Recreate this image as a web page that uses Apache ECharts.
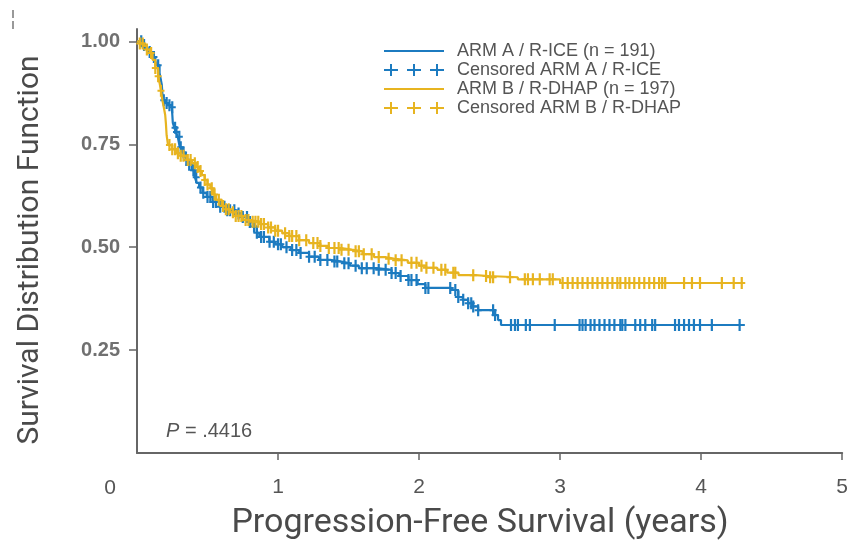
<!DOCTYPE html>
<html>
<head>
<meta charset="utf-8">
<script src="https://cdn.jsdelivr.net/npm/echarts@6/dist/echarts.min.js"></script>
<style>
  html, body { margin: 0; padding: 0; background: #fff; }
  #chart { width: 851px; height: 551px; }
</style>
</head>
<body>
<div id="chart"></div>
<script>
// Kaplan-Meier progression-free survival, two treatment arms.
// Step curves: [years, survival] at each event time.
const armA_name = 'ARM A / R-ICE (n = 191)';
const armA_censName = 'Censored ARM A / R-ICE';
const armB_name = 'ARM B / R-DHAP (n = 197)';
const armB_censName = 'Censored ARM B / R-DHAP';
const xTitle = 'Progression-Free Survival (years)';
const yTitle = 'Survival Distribution Function';

const armA_curve = [
  [0, 1.0], [0.04, 0.991], [0.06, 0.983], [0.08, 0.974], [0.11, 0.962], [0.13, 0.952],
  [0.14, 0.942], [0.16, 0.923], [0.17, 0.905], [0.176, 0.894], [0.183, 0.857], [0.20, 0.85],
  [0.22, 0.845], [0.247, 0.84], [0.254, 0.802], [0.265, 0.79], [0.275, 0.78], [0.289, 0.768],
  [0.303, 0.743], [0.32, 0.73], [0.346, 0.712], [0.37, 0.70], [0.388, 0.687], [0.41, 0.67],
  [0.423, 0.656], [0.44, 0.645], [0.465, 0.632], [0.494, 0.622], [0.536, 0.61], [0.585, 0.598],
  [0.64, 0.59], [0.70, 0.582], [0.748, 0.573], [0.797, 0.561], [0.82, 0.55], [0.85, 0.535],
  [0.867, 0.525], [0.938, 0.513], [0.98, 0.507], [1.03, 0.50], [1.09, 0.493], [1.15, 0.486],
  [1.22, 0.477], [1.29, 0.469], [1.37, 0.465], [1.45, 0.461], [1.51, 0.455], [1.573, 0.449],
  [1.70, 0.445], [1.805, 0.437], [1.86, 0.43], [1.925, 0.42], [1.99, 0.41], [2.045, 0.401],
  [2.228, 0.396], [2.278, 0.379], [2.31, 0.372], [2.348, 0.364], [2.38, 0.356], [2.419, 0.347],
  [2.539, 0.335], [2.56, 0.323], [2.581, 0.311], [4.31, 0.311]
];

const armB_curve = [
  [0, 1.0], [0.02, 0.995], [0.05, 0.989], [0.07, 0.98], [0.09, 0.972], [0.11, 0.955],
  [0.13, 0.935], [0.15, 0.915], [0.16, 0.899], [0.17, 0.88], [0.18, 0.857], [0.19, 0.84],
  [0.20, 0.821], [0.205, 0.80], [0.21, 0.772], [0.22, 0.748], [0.25, 0.738], [0.28, 0.728],
  [0.31, 0.722], [0.35, 0.712], [0.39, 0.704], [0.42, 0.695], [0.44, 0.685], [0.46, 0.675],
  [0.48, 0.663], [0.50, 0.652], [0.52, 0.643], [0.54, 0.628], [0.56, 0.615], [0.60, 0.60],
  [0.63, 0.592], [0.66, 0.585], [0.70, 0.576], [0.75, 0.566], [0.80, 0.562], [0.87, 0.556],
  [0.93, 0.548], [0.98, 0.54], [1.03, 0.534], [1.08, 0.527], [1.15, 0.517], [1.22, 0.51],
  [1.30, 0.503], [1.36, 0.498], [1.45, 0.494], [1.52, 0.49], [1.60, 0.483], [1.68, 0.476],
  [1.76, 0.472], [1.82, 0.468], [1.92, 0.462], [2.00, 0.455], [2.05, 0.45], [2.13, 0.445],
  [2.20, 0.438], [2.28, 0.432], [2.40, 0.43], [2.49, 0.427], [2.70, 0.422], [3.00, 0.413],
  [4.31, 0.413]
];

// Censoring times (years)
const armA_censored = [
  0.03, 0.05, 0.09, 0.12, 0.15, 0.19, 0.21, 0.23, 0.25, 0.27, 0.28, 0.30, 0.31, 0.33, 0.35,
  0.37, 0.40, 0.42, 0.45, 0.47, 0.50, 0.52, 0.54, 0.56, 0.59, 0.62, 0.64, 0.66, 0.69, 0.72,
  0.75, 0.78, 0.80, 0.83, 0.85, 0.88, 0.90, 0.94, 0.97, 1.00, 1.02, 1.06, 1.10, 1.13, 1.16,
  1.22, 1.26, 1.30, 1.35, 1.40, 1.42, 1.47, 1.50, 1.55,
  1.594, 1.629, 1.678, 1.714, 1.763, 1.805, 1.834, 1.869, 1.925, 1.946, 1.982, 2.045, 2.066,
  2.221, 2.257, 2.278, 2.313, 2.348, 2.370, 2.384, 2.419, 2.525, 2.539,
  2.652, 2.680, 2.701, 2.757, 2.786, 2.962, 3.138, 3.159, 3.181, 3.216, 3.244, 3.279, 3.315,
  3.350, 3.385, 3.427, 3.441, 3.463, 3.533, 3.568, 3.604, 3.653, 3.674, 3.815, 3.843, 3.879,
  3.914, 3.949, 3.992, 4.076, 4.273
];

const armB_censored = [
  0.02, 0.04, 0.07, 0.10, 0.13, 0.15, 0.17, 0.23, 0.25, 0.27, 0.29, 0.31, 0.33, 0.36, 0.38,
  0.41, 0.43, 0.45, 0.48, 0.50, 0.53, 0.55, 0.58, 0.61, 0.63, 0.65, 0.68, 0.70, 0.72, 0.74,
  0.77, 0.79, 0.82, 0.84, 0.86, 0.88, 0.90, 0.93, 0.95, 0.98, 1.00, 1.05, 1.08, 1.10, 1.13,
  1.15, 1.20, 1.25, 1.28, 1.30, 1.36, 1.40, 1.43, 1.45, 1.50, 1.55,
  1.573, 1.608, 1.664, 1.714, 1.784, 1.834, 1.876, 1.946, 1.982, 2.017, 2.052, 2.102, 2.158,
  2.186, 2.243, 2.257, 2.384, 2.475, 2.504, 2.525, 2.645, 2.750, 2.772, 2.807, 2.856, 2.926,
  2.948, 3.018, 3.054, 3.089, 3.124, 3.159, 3.195, 3.230, 3.265, 3.300, 3.336, 3.371, 3.406,
  3.427, 3.463, 3.491, 3.526, 3.561, 3.597, 3.632, 3.667, 3.702, 3.724, 3.745, 3.879, 3.935,
  3.992, 4.147, 4.231, 4.288
];

const xTicks = [1, 2, 3, 4, 5];
const yTicks = [0.25, 0.5, 0.75, 1.0];
const pValueText = '.4416';

const BLUE = '#1c7bc0';
const GOLD = '#e7b420';

// survival value of a step curve at time t
function survivalAt(curve, t) {
  let s = curve[0][1];
  for (const [x, y] of curve) {
    if (x <= t) s = y; else break;
  }
  return s;
}

const plusMark = 'path://M2.4,0H4.6V5H7V7H4.6V12H2.4V7H0V5H2.4Z';
const plusLegend = 'path://M6,0V5H0V7H6V12H8V7H14V5H8V0Z M29,0V5H23V7H29V12H31V7H37V5H31V0Z M52,0V5H46V7H52V12H54V7H60V5H54V0Z';
const lineLegend = 'path://M0,5H60V7H0Z';

const chart = echarts.init(document.getElementById('chart'), null, { renderer: 'canvas' });

const axisGrey = '#666666';
const textGrey = '#555555';
const titleFont = 'Roboto, "Liberation Sans", sans-serif';
const labelFont = '"Liberation Sans", Arial, sans-serif';

chart.setOption({
  animation: false,
  backgroundColor: '#ffffff',
  grid: { left: 137, right: 5, top: 29, bottom: 98, containLabel: false },
  xAxis: {
    type: 'value', min: 0, max: 5, interval: 1,
    axisLine: { lineStyle: { color: axisGrey, width: 2 } },
    axisTick: { customValues: xTicks, length: 7, lineStyle: { color: axisGrey, width: 1.5 } },
    axisLabel: { customValues: xTicks, fontFamily: labelFont, fontSize: 21, color: textGrey, margin: 24 },
    splitLine: { show: false }
  },
  yAxis: {
    type: 'value', min: 0, max: 1.03,
    axisLine: { show: true, lineStyle: { color: axisGrey, width: 2 } },
    axisTick: { show: true, customValues: yTicks, length: 8, lineStyle: { color: axisGrey, width: 1.5 } },
    axisLabel: {
      customValues: yTicks, fontFamily: labelFont, fontSize: 20, fontWeight: 'bold',
      color: '#707070', margin: 17,
      formatter: v => v.toFixed(2)
    },
    splitLine: { show: false }
  },
  legend: {
    orient: 'vertical', left: 379, top: 37, itemWidth: 60, itemHeight: 12, itemGap: 1,
    textStyle: { fontFamily: labelFont, fontSize: 18, color: textGrey, padding: [0, 0, 0, 8] },
    data: [
      { name: armA_name, icon: lineLegend, itemStyle: { color: BLUE } },
      { name: armA_censName, icon: plusLegend, itemStyle: { color: BLUE } },
      { name: armB_name, icon: lineLegend, itemStyle: { color: GOLD } },
      { name: armB_censName, icon: plusLegend, itemStyle: { color: GOLD } }
    ]
  },
  graphic: [
    { type: 'text', x: 110, y: 488,
      style: { text: '0', font: '21px ' + labelFont, fill: textGrey, align: 'center', verticalAlign: 'middle' } },
    { type: 'text', x: 480, y: 523,
      style: { text: xTitle, font: '34px ' + titleFont, fill: '#4a4a4a', align: 'center', verticalAlign: 'middle' } },
    { type: 'text', x: 30, y: 250, rotation: Math.PI / 2,
      style: { text: yTitle, font: '30px ' + titleFont, fill: '#4a4a4a', align: 'center', verticalAlign: 'middle' } },
    { type: 'text', x: 166, y: 431,
      style: { text: '{p|P} = ' + pValueText, font: '20px ' + labelFont, fill: '#555',
        verticalAlign: 'middle',
        rich: { p: { font: 'italic 20px ' + labelFont, fill: '#555' } } } },
    { type: 'line', shape: { x1: 13, y1: 10, x2: 13, y2: 18 }, style: { stroke: '#777', lineWidth: 1.5 } },
    { type: 'line', shape: { x1: 13, y1: 21, x2: 13, y2: 29 }, style: { stroke: '#777', lineWidth: 1.5 } }
  ],
  series: [
    {
      name: armA_name, type: 'line', step: 'end', data: armA_curve, symbol: 'none',
      lineStyle: { color: BLUE, width: 2.2 }, itemStyle: { color: BLUE }, z: 2
    },
    {
      name: armA_censName, type: 'scatter', symbol: plusMark, symbolSize: [7, 12],
      data: armA_censored.map(t => [t, survivalAt(armA_curve, t)]),
      itemStyle: { color: BLUE, opacity: 1 }, z: 3
    },
    {
      name: armB_name, type: 'line', step: 'end', data: armB_curve, symbol: 'none',
      lineStyle: { color: GOLD, width: 2.2 }, itemStyle: { color: GOLD }, z: 4
    },
    {
      name: armB_censName, type: 'scatter', symbol: plusMark, symbolSize: [7, 12],
      data: armB_censored.map(t => [t, survivalAt(armB_curve, t)]),
      itemStyle: { color: GOLD, opacity: 1 }, z: 5
    }
  ]
});
</script>
</body>
</html>
